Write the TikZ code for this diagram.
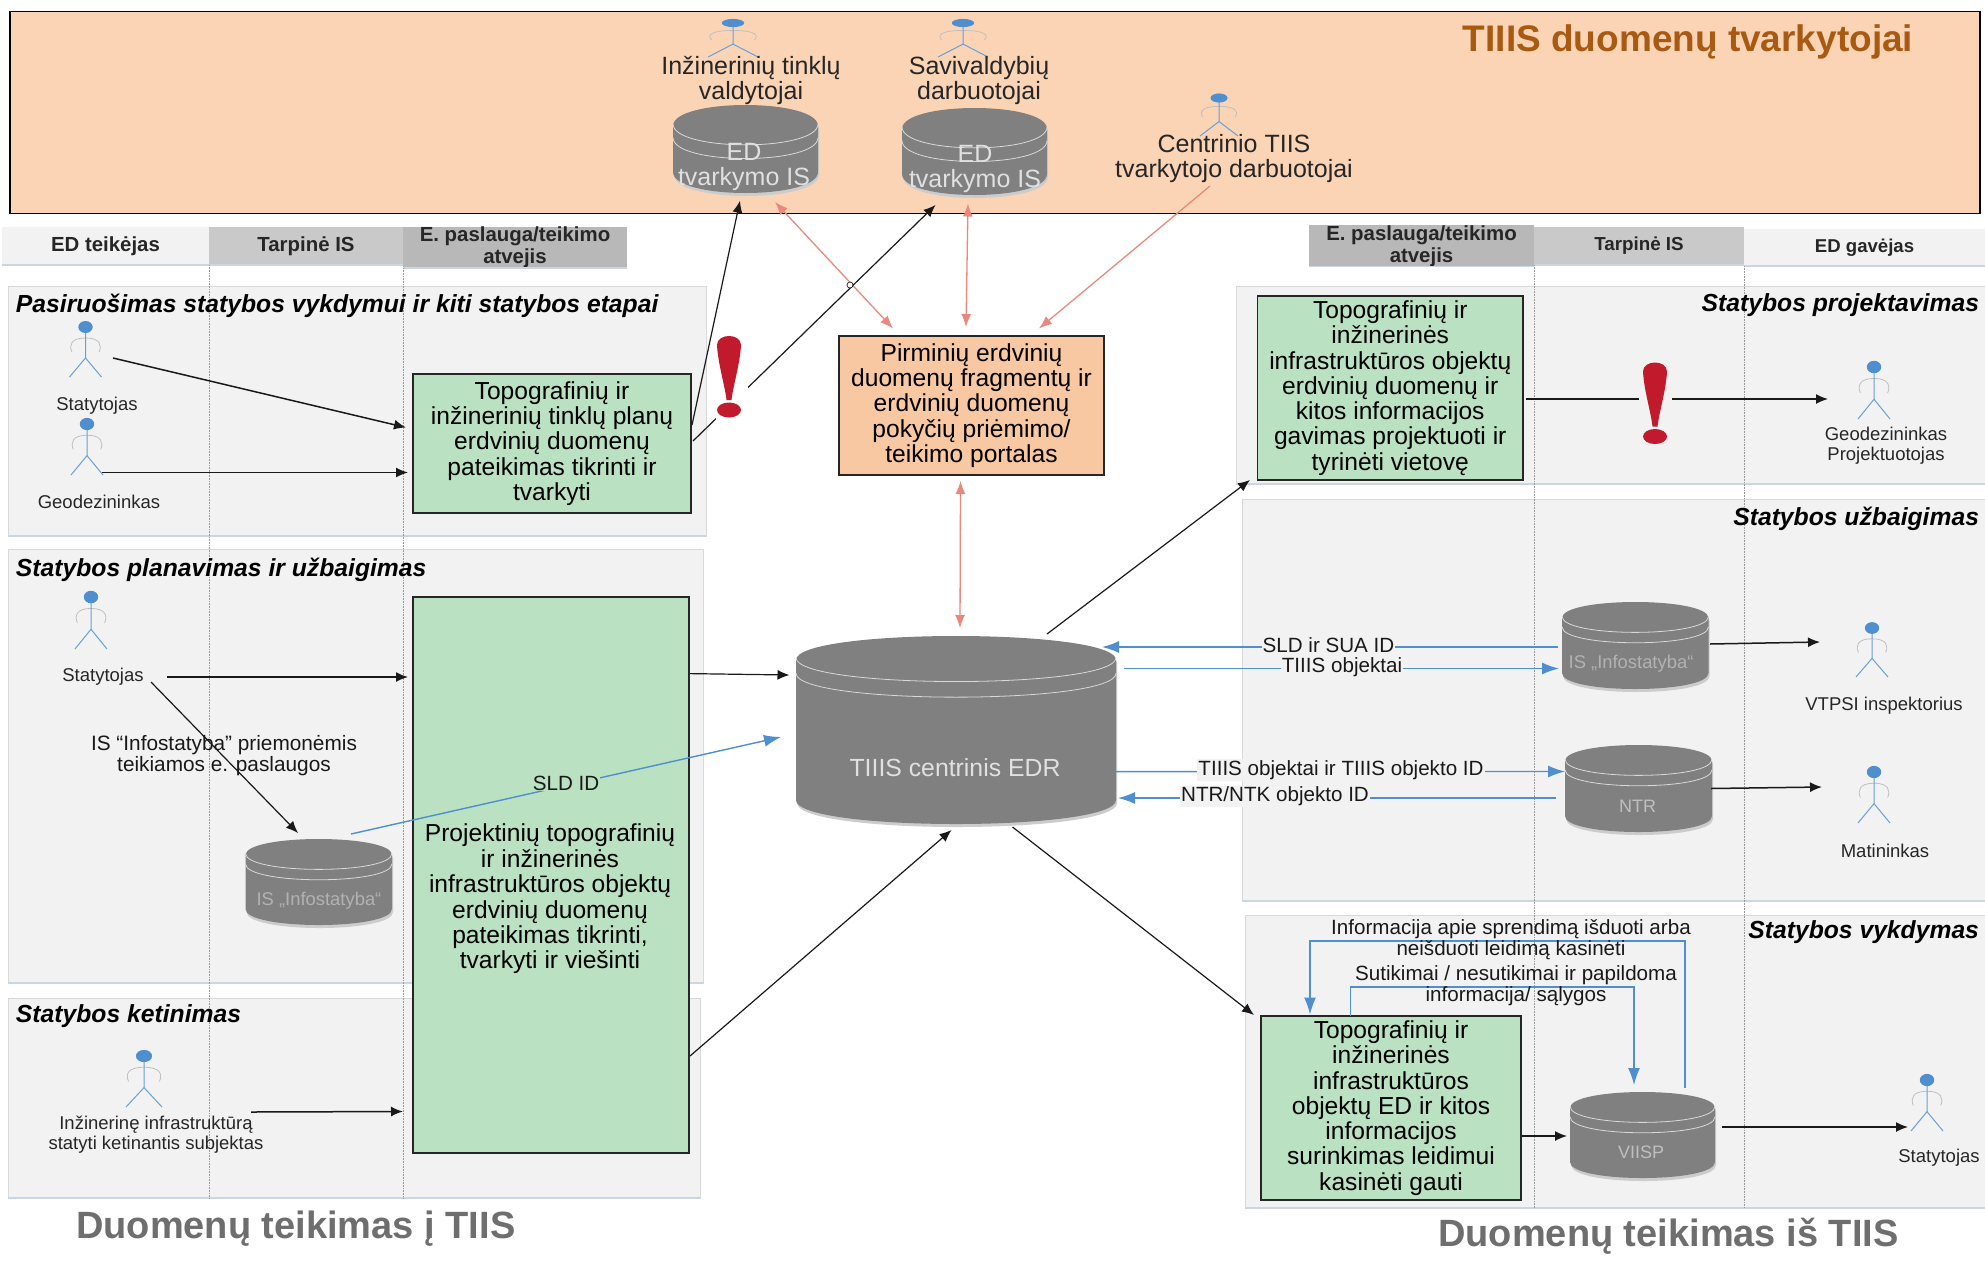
\documentclass[tikz,border=0pt]{standalone}
\usepackage{fontspec}
\setmainfont{Liberation Sans}
\usetikzlibrary{arrows.meta,calc}
\definecolor{topfill}{HTML}{FBD4B6}
\definecolor{orfill}{HTML}{F8C8A2}
\definecolor{grfill}{HTML}{B9E1C2}
\definecolor{panelc}{HTML}{F2F2F2}
\definecolor{cylc}{HTML}{808080}
\definecolor{bluec}{HTML}{4F8FD0}
\definecolor{pinkc}{HTML}{E9897E}
\definecolor{redc}{HTML}{C01A2C}
\definecolor{titlec}{HTML}{A95A12}
\definecolor{capc}{HTML}{6E6E6E}
\definecolor{shadowc}{HTML}{CBD6E4}
\newcommand{\fsz}[2]{\fontsize{#1}{#2}\selectfont}
\tikzset{
  x=1pt,y=-1pt,
  flatbox/.style={rectangle,inner sep=0pt,outer sep=0pt,align=center},
  topbox/.style={flatbox,draw=black,line width=1.4pt,fill=topfill},
  panelbox/.style={flatbox,draw=black!15,line width=.8pt,fill=panelc},
  headbox/.style={flatbox,font=\bfseries\fsz{20.4}{22},text=black!85},
  greenbox/.style={flatbox,draw=black!85,line width=1.4pt,fill=grfill,font=\fsz{24.6}{25.3}},
  orbox/.style={flatbox,draw=black!85,line width=1.4pt,fill=orfill,font=\fsz{24.6}{25.3}},
  lanetitle/.style={inner sep=0pt,outer sep=0pt,font=\bfseries\itshape\fsz{24.7}{26}},
  person/.style={inner sep=0pt,outer sep=0pt,align=center,font=\fsz{18.5}{19.5},text=black!85},
  toplabel/.style={inner sep=0pt,outer sep=0pt,align=center,font=\fsz{25}{25},text=black!85},
  cyltext/.style={inner sep=0pt,outer sep=0pt,align=center,text=white!88!black},
  flowlabel/.style={inner sep=1pt,outer sep=0pt,fill=panelc,font=\fsz{20.6}{21},text=black!90},
  blackarrow/.style={draw=black!90,line width=1.5pt,-{Latex[length=12pt,width=10pt]}},
  bluearrow/.style={draw=bluec,line width=1.4pt,-{Latex[length=17pt,width=12pt]}},
  pinkarrow/.style={draw=pinkc,line width=1.3pt,-{Latex[length=13pt,width=10pt]}},
  pinkboth/.style={draw=pinkc,line width=1.3pt,{Latex[length=13pt,width=10pt]}-{Latex[length=13pt,width=10pt]}},
  lane/.style={draw=black!40,line width=.6pt,densely dotted},
  panelshadow/.style={draw=shadowc,line width=1.6pt},
  anchorbox/.style={rectangle,inner sep=0pt,outer sep=0pt,draw=none}
}
% name, x1, x2, ytop, ybottom, ry
\newcommand{\dbcyl}[6]{%
  \fill[black!20] (#2+1,#4+#6+3) .. controls (#2+1,#4-#6/3+3) and (#3+1,#4-#6/3+3) .. (#3+1,#4+#6+3)
     -- (#3+1,#5-#6+3) .. controls (#3+1,#5+#6/3+3) and (#2+1,#5+#6/3+3) .. (#2+1,#5-#6+3) -- cycle;
  \fill[cylc] (#2,#4+#6) .. controls (#2,#4-#6/3) and (#3,#4-#6/3) .. (#3,#4+#6)
     -- (#3,#5-#6) .. controls (#3,#5+#6/3) and (#2,#5+#6/3) .. (#2,#5-#6) -- cycle;
  \foreach \k in {0.9,1.55}{%
    \draw[white!85!black,line width=.8pt] (#2,#4+#6*\k) .. controls (#2,#4+#6*\k+#6*1.33) and (#3,#4+#6*\k+#6*1.33) .. (#3,#4+#6*\k);
  }
  \node[anchorbox,minimum width={#3-#2},minimum height={#5-#4}] (#1) at ({(#2+#3)/2},{(#4+#5)/2}) {};
}
% name, x, yhead, half width, height
\newcommand{\stick}[5]{%
  \draw[black!25,line width=.8pt] (#2,#3+.22*#5) .. controls (#2-.9*#4,#3+.22*#5) and (#2-1.05*#4,#3+.36*#5) .. (#2-.85*#4,#3+.5*#5);
  \draw[black!25,line width=.8pt] (#2,#3+.22*#5) .. controls (#2+.9*#4,#3+.22*#5) and (#2+1.05*#4,#3+.36*#5) .. (#2+.85*#4,#3+.5*#5);
  \draw[bluec!85!white,line width=1pt] (#2,#3) -- (#2,#3+.62*#5) -- (#2-#4,#3+#5);
  \draw[bluec!85!white,line width=1pt] (#2,#3+.62*#5) -- (#2+#4,#3+#5);
  \fill[bluec] (#2,#3) ellipse ({.45*#4} and {.12*#5});
  \node[anchorbox,minimum width={2*#4},minimum height={#5}] (#1) at (#2,{#3+#5/2}) {};
}
% x centre, top
\newcommand{\bang}[2]{%
  \fill[redc] (#1-12,#2+9) .. controls (#1-12,#2-3) and (#1+12,#2-3) .. (#1+12,#2+9)
    .. controls (#1+11,#2+28) and (#1+4,#2+50) .. (#1+2.5,#2+64) -- (#1-2.5,#2+64)
    .. controls (#1-4,#2+50) and (#1-11,#2+28) .. (#1-12,#2+9) -- cycle;
  \fill[redc] (#1,#2+74) ellipse (12 and 7.5);
}
\begin{document}
\begin{tikzpicture}
\useasboundingbox (0,0) rectangle (1985,1275);
\fill[white] (0,0) rectangle (1985,1275);

% top band
\node[topbox,minimum width=1970pt,minimum height=202pt] (band) at (995,112.5) {};
\node[inner sep=0pt,text=titlec,font=\bfseries\fsz{37}{38}] (bandtitle) at (1688,42) {TIIIS duomenų tvarkytojai};

% panels
\node[panelbox,minimum width=698pt,minimum height=250pt] (p1) at (357,411) {};
\node[panelbox,minimum width=695pt,minimum height=434pt] (p2) at (355.5,766) {};
\node[panelbox,minimum width=692pt,minimum height=200pt] (p3) at (354,1098) {};
\node[panelbox,minimum width=749pt,minimum height=198pt] (r1) at (1610.5,385) {};
\node[panelbox,minimum width=743pt,minimum height=402pt] (r2) at (1613.5,700) {};
\node[panelbox,minimum width=740pt,minimum height=293pt] (r3) at (1615,1061.5) {};
\foreach \p in {p1,p2,p3,r1,r2,r3}{\draw[panelshadow] (\p.south west) -- (\p.south east);}

% header strips
\node[headbox,fill=panelc,minimum width=207pt,minimum height=38pt] (hl1) at (105.5,246) {ED teikėjas};
\node[headbox,fill=black!21,minimum width=194pt,minimum height=38pt] (hl2) at (306,246) {Tarpinė IS};
\node[headbox,fill=black!28,minimum width=224pt,minimum height=39pt] (hl3) at (515,247.5) {E. paslauga/teikimo\\atvejis};
\node[headbox,fill=black!28,minimum width=225pt,minimum height=38pt] (hr1) at (1421.5,246) {E. paslauga/teikimo\\atvejis};
\node[headbox,fill=black!21,minimum width=210pt,minimum height=38pt,font=\bfseries\fsz{18.8}{20}] (hr2) at (1639,246) {Tarpinė IS};
\node[headbox,fill=panelc,minimum width=241pt,minimum height=37pt,font=\bfseries\fsz{18.6}{20}] (hr3) at (1864.5,247.5) {ED gavėjas};
\foreach \h in {hl1,hl2,hl3,hr1,hr2,hr3}{\draw[shadowc,line width=1.4pt] (\h.south west) -- (\h.south east);}

% swimlane separators
\draw[lane] (hl2.south west) -- (hl2.south west |- p3.south);
\draw[lane] (hl3.south west) -- (hl3.south west |- p3.south);
\draw[lane] (hr2.south west) -- (hr2.south west |- r3.south);
\draw[lane] (hr3.south west) -- (hr3.south west |- r3.south);

% panel titles
\node[lanetitle,anchor=west] (tp1) at (16,305.5) {Pasiruošimas statybos vykdymui ir kiti statybos etapai};
\node[lanetitle,anchor=west] (tp2) at (16,569.5) {Statybos planavimas ir užbaigimas};
\node[lanetitle,anchor=west] (tp3) at (16,1016) {Statybos ketinimas};
\node[lanetitle,anchor=east] (tr1) at (1979,305.5) {Statybos projektavimas};
\node[lanetitle,anchor=east] (tr2) at (1979,518.5) {Statybos užbaigimas};
\node[lanetitle,anchor=east] (tr3) at (1979,932) {Statybos vykdymas};

% green boxes
\node[greenbox,minimum width=278pt,minimum height=139pt] (g1) at (552,443.5) {Topografinių ir\\inžinerinių tinklų planų\\erdvinių duomenų\\pateikimas tikrinti ir\\tvarkyti};
\node[greenbox,minimum width=276pt,minimum height=556pt] (g2) at (551,875) {};
\node[greenbox,minimum width=265.5pt,minimum height=184pt] (g3) at (1390.25,388) {Topografinių ir\\inžinerinės\\infrastruktūros objektų\\erdvinių duomenų ir\\kitos informacijos\\gavimas projektuoti ir\\tyrinėti vietovę};
\node[greenbox,minimum width=260pt,minimum height=184pt] (g4) at (1391,1108) {Topografinių ir\\inžinerinės\\infrastruktūros\\objektų ED ir kitos\\informacijos\\surinkimas leidimui\\kasinėti gauti};
\node[orbox,minimum width=265pt,minimum height=139pt] (por) at (971.5,405.5) {Pirminių erdvinių\\duomenų fragmentų ir\\erdvinių duomenų\\pokyčių priėmimo/\\teikimo portalas};

% databases
\dbcyl{ed1}{673}{818}{105}{193}{21}
\dbcyl{ed2}{902}{1047}{108}{195}{21}
\dbcyl{central}{796}{1116}{636}{824}{24}
\dbcyl{isl}{245.5}{392}{839}{925}{16}
\dbcyl{isr}{1562}{1708.5}{602}{689}{16}
\dbcyl{ntr}{1565}{1712}{745}{832}{16}
\dbcyl{viisp}{1570}{1715}{1092}{1178}{16}
\node[cyltext,font=\fsz{25}{25.5}] (ed1t) at (744,167) {ED\\tvarkymo IS};
\node[cyltext,font=\fsz{25}{25.5}] (ed2t) at (975,169) {ED\\tvarkymo IS};
\node[cyltext,font=\fsz{24.8}{25}] (centralt) at (955,768) {TIIIS centrinis EDR};
\node[cyltext,font=\fsz{18.4}{19},text=white!70!black] (islt) at (319,901) {IS „Infostatyba“};
\node[cyltext,font=\fsz{18.4}{19},text=white!70!black] (isrt) at (1631,664) {IS „Infostatyba“};
\node[cyltext,font=\fsz{18}{19},text=white!75!black] (ntrt) at (1637.5,806) {NTR};
\node[cyltext,font=\fsz{18}{19},text=white!75!black] (viispt) at (1641,1152) {VIISP};

% people
\stick{a1}{733}{23}{25}{34}
\stick{a2}{963}{23}{25}{34}
\stick{a3}{1219}{98}{19}{38}
\stick{a4}{85.5}{327}{16}{50}
\stick{a5}{87}{424}{16}{51}
\stick{a6}{91}{597}{16}{52}
\stick{a7}{144}{1056}{18}{51}
\stick{a8}{1874}{367}{16}{52}
\stick{a9}{1872}{628}{16}{49}
\stick{a10}{1874}{772}{16}{51}
\stick{a11}{1927}{1080}{16}{51}
\node[toplabel] (t1) at (751,80.5) {Inžinerinių tinklų\\valdytojai};
\node[toplabel] (t2) at (979,80.5) {Savivaldybių\\darbuotojai};
\node[toplabel] (t3) at (1234,158.5) {Centrinio TIIS\\tvarkytojo darbuotojai};
\node[person] (t4) at (97,406) {Statytojas};
\node[person] (t5) at (99,502) {Geodezininkas};
\node[person] (t6) at (103,676.5) {Statytojas};
\node[person] (t7) at (156,1134.5) {Inžinerinę infrastruktūrą\\statyti ketinantis subjektas};
\node[person] (t8) at (1886,445.5) {Geodezininkas\\Projektuotojas};
\node[person] (t9) at (1884,706) {VTPSI inspektorius};
\node[person] (t10) at (1885,851) {Matininkas};
\node[person] (t11) at (1939,1158) {Statytojas};

% black connectors
\draw[blackarrow] ($(a4.east)+(11.5,6)$) -- ($(g1.west)+(-7,-16)$);
\draw[blackarrow] ($(a5.south east)+(-1,-2.5)$) -- ($(g1.west)+(-5,29)$);
\draw[blackarrow,line width=1.2pt] ($(g1.east)+(1,-18.5)$) -- ($(ed1.south)+(-5.5,7.7)$);
\draw[pinkboth] ($(ed1.south)+(29.5,9)$) -- ($(por.north)+(-78.5,-7.5)$);
\draw[pinkboth] ($(ed2.south)+(-6.5,8.5)$) -- ($(por.north)+(-5.5,-9)$);
\draw[pinkarrow] ($(t3.center)+(-24,27.5)$) -- ($(por.north)+(67.5,-7.5)$);
\draw[pinkboth] ($(por.south)+(-11,6)$) -- ($(central.north)+(4,-8)$);
\draw[blackarrow,line width=1.2pt] ($(g1.east)+(2,-2.5)$) -- ($(ed2.south)+(-39,10)$);
\draw[black!90,line width=.7pt,fill=white] (850,285) circle (3);
\draw[blackarrow] ($(t6.center)+(64,.5)$) -- ($(g2.west)+(-5,-198)$);
\draw[blackarrow,line width=1.2pt] ($(t6.center)+(48,5.5)$) -- ($(isl.north)+(-20.75,-6)$);
\draw[blackarrow,line width=1.2pt] ($(g2.east)+(1,-201.4)$) -- ($(central.west)+(-6.5,-55)$);
\draw[blackarrow,line width=1.2pt] ($(g2.east)+(1,181)$) -- ($(central.south)+(-4.5,6)$);
\draw[blackarrow] ($(a7.south east)+(89,5)$) -- ($(g2.west)+(-10,236.5)$);
\draw[blackarrow,line width=1.2pt] ($(central.north)+(91,-2)$) -- ($(g3.south west)+(-7.5,0)$);
\draw[blackarrow,line width=1.2pt] ($(central.south)+(56.5,3)$) -- ($(g4.north west)+(-7,-1)$);
\draw[blackarrow] ($(g3.east)+(3,11)$) -- ($(a8.west)+(-30,6)$);
\draw[blackarrow] ($(isr.east)+(1.5,-1.5)$) -- ($(a9.west)+(-36,-10.5)$);
\draw[blackarrow] ($(ntr.east)+(-1,0)$) -- ($(a10.west)+(-36,-10.5)$);
\draw[blackarrow] ($(g4.east)+(1,28)$) -- ($(viisp.west)+(-3,1)$);
\draw[blackarrow] ($(viisp.east)+(7,-8)$) -- ($(a11.west)+(-3,21.5)$);

% blue connectors
\draw[bluearrow] ($(isl.north)+(32.25,-5)$) -- ($(central.west)+(-15,7)$);
\draw[bluearrow] ($(isr.west)+(-4,1.5)$) -- ($(central.east)+(-14,-83)$);
\draw[bluearrow] ($(central.east)+(8,-61.5)$) -- ($(isr.west)+(-3,23)$);
\draw[bluearrow] ($(central.east)+(0,41.6)$) -- ($(ntr.west)+(0,-17)$);
\draw[bluearrow] ($(ntr.west)+(-9,9.5)$) -- ($(central.east)+(2,68)$);
\draw[bluearrow] ($(viisp.north)+(42.5,-4.4)$) |- ($(g4.north)+(-81,-75)$) -- ($(g4.north)+(-81,-1.5)$);
\draw[bluearrow] ($(g4.north)+(-40.5,0)$) |- ($(viisp.north)+(-8.5,-105)$) -- ($(viisp.north)+(-8.5,-7)$);

% exclamation marks
\node[anchorbox,fill=white,minimum width=32pt,minimum height=89pt] (bang1) at (732,380.5) {};
\bang{729}{336}
\node[anchorbox,fill=panelc,minimum width=33pt,minimum height=12pt] (bang2) at (1655.5,399) {};
\bang{1655}{362.5}

% flow labels
\node[flowlabel,fill=grfill] (lsld) at (566,783) {SLD ID};
\node[flowlabel] (l1) at (1328.5,645) {SLD ir SUA ID};
\node[flowlabel] (l2) at (1342,667.5) {TIIIS objektai};
\node[flowlabel] (l3) at (1341,770) {TIIIS objektai ir TIIIS objekto ID};
\node[flowlabel] (l4) at (1275,796.5) {NTR/NTK objekto ID};
\node[inner sep=0pt,align=center,text=black!90,font=\fsz{20.8}{21}] (l5) at (224,755.5) {IS “Infostatyba” priemonėmis\\teikiamos e. paslaugos};
\node[inner sep=0pt,align=center,text=black!90,font=\fsz{20.6}{21}] (l6) at (1511,939.5) {Informacija apie sprendimą išduoti arba\\neišduoti leidimą kasinėti};
\node[inner sep=0pt,align=center,text=black!90,font=\fsz{20.6}{20.5}] (l7) at (1516,985.5) {Sutikimai / nesutikimai ir papildoma\\informacija/ sąlygos};

% text of the tall green box
\node[inner sep=0pt,align=center,font=\fsz{24.6}{25.4}] (g2t) at (550,899) {Projektinių topografinių\\ir inžinerinės\\infrastruktūros objektų\\erdvinių duomenų\\pateikimas tikrinti,\\tvarkyti ir viešinti};

% captions
\node[inner sep=0pt,text=capc,font=\bfseries\fsz{38}{39},anchor=west] (capl) at (76,1229) {Duomenų teikimas į TIIS};
\node[inner sep=0pt,text=capc,font=\bfseries\fsz{38}{39},anchor=west] (capr) at (1438,1236) {Duomenų teikimas iš TIIS};
\end{tikzpicture}
\end{document}
